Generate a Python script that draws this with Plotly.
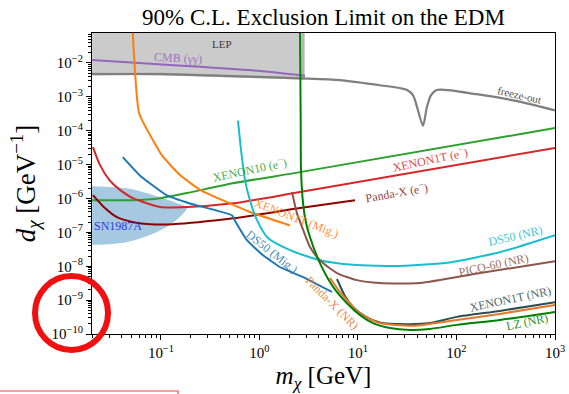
import numpy as np
import plotly.graph_objects as go

# ---------------- data: dark-matter mass m_chi [GeV], EDM d_chi [GeV^-1] ----------------
lep_m = [0.02, 0.1, 0.5, 2.8, 2.8, 0.02]
lep_d = [4.7e-3, 4.7e-3, 4.1e-3, 3.5e-3, 0.2, 0.2]

cmb_m = [0.02, 0.06, 0.25, 1.0, 2.9]
cmb_d = [1.22e-2, 1.0e-2, 7.7e-3, 5.8e-3, 4.2e-3]

freeze_m = [0.02, 0.1, 0.5, 2.6, 6.6, 16.6, 27, 31.6, 36.3, 39.8, 45.7, 50.1, 55, 63, 160, 400, 1000]
freeze_d = [4.7e-3, 4.7e-3, 4.1e-3, 3.5e-3, 3.1e-3, 2.2e-3, 1.8e-3, 1.6e-3, 1.1e-3, 5.0e-4,
            1.4e-4, 5.0e-4, 1.1e-3, 1.6e-3, 1.2e-3, 7.6e-4, 4.0e-4]

sn_m = [0.02, 0.045, 0.077, 0.145, 0.184, 0.132, 0.077, 0.045, 0.024, 0.02]
sn_d = [2.3e-6, 2.0e-6, 1.35e-6, 7.3e-7, 5.2e-7, 1.9e-7, 8.3e-8, 5.1e-8, 4.3e-8, 4.3e-8]

x10e_m = [0.02, 0.049, 0.098, 0.184, 0.537, 2.58, 1000]
x10e_d = [8.9e-7, 8.9e-7, 1.02e-6, 1.45e-6, 2.8e-6, 6.0e-6, 1.2e-4]

x1te_m = [0.0204, 0.024, 0.030, 0.0384, 0.052, 0.098, 0.184, 0.538, 2.58, 1000]
x1te_d = [3.3e-5, 9.8e-6, 3.5e-6, 1.8e-6, 1.02e-6, 5.6e-7, 5.6e-7, 7.2e-7, 1.55e-6, 3.1e-5]

pxe_m = [0.0204, 0.027, 0.0357, 0.0525, 0.0776, 0.132, 0.538, 2.58, 9.33]
pxe_d = [1.26e-6, 5.2e-7, 2.8e-7, 2.0e-7, 1.74e-7, 1.74e-7, 2.6e-7, 5.2e-7, 8.9e-7]

x1tmig_m = [0.0515, 0.060, 0.102, 0.156, 0.249, 0.468, 0.80, 2.04]
x1tmig_d = [0.1, 3.3e-4, 1.9e-5, 4.9e-6, 1.8e-6, 7.8e-7, 4.0e-7, 1.6e-7]

ds50mig_m = [0.041, 0.061, 0.115, 0.197, 0.526, 0.564, 0.746, 1.09, 1.61, 2.77, 5.45]
ds50mig_d = [1.66e-5, 4.8e-6, 1.23e-6, 7.1e-7, 3.2e-7, 2.2e-7, 5.9e-8, 2.1e-8, 9.5e-9, 4.8e-9, 1.74e-9]

ds50nr_m = [0.605, 0.65, 0.713, 0.80, 0.944, 1.22, 2.04, 4.11, 8.91, 26.9, 85, 275, 1000]
ds50nr_d = [2.0e-4, 2.7e-5, 3.5e-6, 8.9e-7, 2.3e-7, 6.8e-8, 3.0e-8, 1.5e-8, 1.1e-8,
            1.02e-8, 1.3e-8, 2.6e-8, 8.3e-8]

pico_m = [2.14, 2.40, 2.83, 3.26, 4.11, 6.12, 9.77, 16.6, 42.7, 174, 1000]
pico_d = [1.55e-6, 3.7e-7, 1.02e-7, 3.7e-8, 1.5e-8, 6.3e-9, 3.9e-9, 3.2e-9, 3.2e-9, 6.3e-9, 1.4e-8]

lz_m = [2.58, 2.62, 2.64, 2.77, 2.96, 3.26, 4.11, 5.57, 7.73, 10.5, 14.2, 21.1, 33.7, 53.7, 101, 275, 1000]
lz_d = [0.1, 2.0e-4, 6.9e-6, 7.2e-7, 2.0e-7, 7.2e-8, 1.23e-8, 2.5e-9, 8.1e-10, 3.6e-10,
        2.1e-10, 1.5e-10, 1.32e-10, 1.41e-10, 1.86e-10, 2.6e-10, 4.5e-10]

x1tnr_m = [6.12, 7.38, 8.91, 11.7, 16.6, 31.6, 53.7, 101, 275, 1000]
x1tnr_d = [4.2e-9, 1.32e-9, 6.3e-10, 3.4e-10, 2.2e-10, 1.95e-10, 2.1e-10, 3.2e-10, 4.8e-10, 8.7e-10]

pxnr_m = [5.2, 6.56, 7.73, 9.33, 11.2, 16.6, 36.3, 101, 275, 1000]
pxnr_d = [4.5e-9, 1.74e-9, 1.0e-9, 5.5e-10, 3.6e-10, 2.1e-10, 1.74e-10, 2.6e-10, 3.9e-10, 7.2e-10]

x_ticks = [0.1, 1, 10, 100, 1000]
x_tick_text = ["10<sup>−1</sup>", "10<sup>0</sup>", "10<sup>1</sup>", "10<sup>2</sup>", "10<sup>3</sup>"]
y_ticks = [1e-10, 1e-9, 1e-8, 1e-7, 1e-6, 1e-5, 1e-4, 1e-3, 1e-2]
y_tick_text = ["10<sup>−%d</sup>" % k for k in range(10, 1, -1)]

SERIF = "Liberation Serif"

fig = go.Figure()


def line(m, d, color, width=2.0, smooth=0.6):
    shape = "spline" if smooth else "linear"
    fig.add_trace(go.Scatter(
        x=m, y=d, mode="lines",
        line=dict(color=color, width=width, shape=shape, smoothing=smooth or None),
        hoverinfo="skip", showlegend=False))


# LEP excluded region
fig.add_trace(go.Scatter(x=lep_m, y=lep_d, mode="lines", fill="toself",
                         fillcolor="rgba(160,160,160,0.55)",
                         line=dict(color="rgba(150,150,150,0.6)", width=2.5),
                         hoverinfo="skip", showlegend=False))
# SN1987A region
fig.add_trace(go.Scatter(x=sn_m, y=sn_d, mode="lines", fill="toself",
                         fillcolor="rgba(31,119,180,0.4)",
                         line=dict(color="rgba(31,119,180,0)", width=0, shape="spline", smoothing=0.8),
                         hoverinfo="skip", showlegend=False))

line(cmb_m, cmb_d, "#9467bd", 2.0)
line(freeze_m, freeze_d, "#7f7f7f", 2.2, 0.7)
line(x10e_m, x10e_d, "#2ca02c")
line(x1te_m, x1te_d, "#d62728")
line(pxe_m, pxe_d, "#8b0000")
line(x1tmig_m, x1tmig_d, "#ff7f0e", 2.0, 0.4)
line(ds50mig_m, ds50mig_d, "#1f77b4", 2.0, 0.4)
line(ds50nr_m, ds50nr_d, "#17becf")
line(pico_m, pico_d, "#8c564b")
line(x1tnr_m, x1tnr_d, "#2f4f4f")
line(pxnr_m, pxnr_d, "#e8762b")
line(lz_m, lz_d, "#008000")

# curve labels
labels = [
    ("LEP", 0.417, 0.0359, "#222222", 0, 11),
    ("CMB (γγ)", 0.149, 0.0138, "#9467bd", 3, 12),
    ("freeze-out", 432, 1.12e-3, "#333333", 13, 11),
    ("XENON10 (e<sup>−</sup>)", 0.80, 7.4e-6, "#2ca02c", -12, 12),
    ("XENON1T (e<sup>−</sup>)", 53.7, 1.45e-5, "#d62728", -12, 12),
    ("Panda-X (e<sup>−</sup>)", 24.5, 1.55e-6, "#8b1a1a", -10, 12),
    ("XENON1T (Mig.)", 2.35, 2.6e-7, "#ff7f0e", 21, 12),
    ("DS50 (Mig.)", 1.34, 2.6e-8, "#1f77b4", 38, 12),
    ("Panda-X (NR)", 5.45, 8.1e-10, "#e8762b", 45, 12),
    ("DS50 (NR)", 393, 7.8e-8, "#17becf", -13, 12),
    ("PICO-60 (NR)", 240, 1.1e-8, "#8c564b", -12, 12),
    ("XENON1T (NR)", 357, 1.07e-9, "#2f4f4f", -12, 12),
    ("LZ (NR)", 520, 2.24e-10, "#008000", -12, 12),
    ("SN1987A", 0.0366, 1.55e-7, "#2020ee", 0, 12),
]
for text, m, d, color, ang, size in labels:
    fig.add_annotation(x=np.log10(m), y=np.log10(d), xref="x", yref="y", text=text,
                       showarrow=False, textangle=ang, opacity=0.85,
                       font=dict(family=SERIF, size=size, color=color))

minor_vals = [k * 10.0 ** e for e in range(-11, 4) for k in range(2, 10)]

fig.update_xaxes(type="log", range=[-1.70, 3.0], tickvals=x_ticks, ticktext=x_tick_text,
                 ticks="outside", ticklen=5, tickcolor="black", showline=True, linecolor="black",
                 linewidth=1.2, mirror=True, showgrid=False, zeroline=False,
                 tickfont=dict(family=SERIF, size=15, color="black"),
                 minor=dict(tickvals=minor_vals, ticks="outside", ticklen=2.5, tickcolor="black",
                            showgrid=False),
                 title=dict(text="<i>m</i><sub><i>χ</i></sub> [GeV]", standoff=6,
                            font=dict(family=SERIF, size=25, color="black")))
fig.update_yaxes(type="log", range=[-10.0, -1.115], tickvals=y_ticks, ticktext=y_tick_text,
                 ticks="outside", ticklen=5, tickcolor="black", showline=True, linecolor="black",
                 linewidth=1.2, mirror=True, showgrid=False, zeroline=False,
                 tickfont=dict(family=SERIF, size=15, color="black"),
                 minor=dict(tickvals=minor_vals, ticks="outside", ticklen=2.5, tickcolor="black",
                            showgrid=False),
                 title=dict(text="<i>d</i><sub><i>χ</i></sub> [GeV<sup>−1</sup>]", standoff=8,
                            font=dict(family=SERIF, size=27, color="black")))

# highlight ring around the lowest y-axis decades, and a framed box below the axis
fig.add_shape(type="circle", xref="paper", yref="paper",
              x0=-0.1231, x1=0.0346, y0=-0.0532, y1=0.1927,
              line=dict(color="#f01010", width=6))
fig.add_shape(type="rect", xref="paper", yref="paper",
              x0=-0.25, x1=0.1857, y0=-0.35, y1=-0.1894,
              line=dict(color="#ff4040", width=1.2))

fig.update_layout(
    width=569, height=394,
    margin=dict(l=92, r=14, t=33, b=60, autoexpand=False),
    paper_bgcolor="white", plot_bgcolor="white",
    title=dict(text="90% C.L. Exclusion Limit on the EDM", x=0.5, xref="paper",
               y=1 - 17 / 394, yref="container", yanchor="middle",
               font=dict(family=SERIF, size=23, color="black")),
    showlegend=False,
)

fig.write_html("out.html")
